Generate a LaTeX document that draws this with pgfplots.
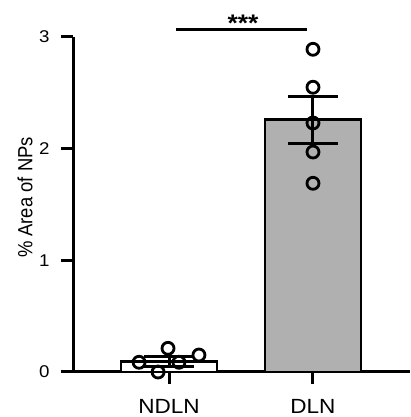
\documentclass[border=0pt]{standalone}
\usepackage{pgfplots}
\pgfplotsset{compat=1.18}
\usepackage{fontspec}
\setmainfont{Liberation Sans}
% the reference is set a little wider than Arial
\newfontfamily\wide{Liberation Sans}[FakeStretch=1.1]
\newfontfamily\narrow{Liberation Sans}[FakeStretch=0.9]
\definecolor{barGray}{HTML}{B0B0B0}

\begin{document}
\begin{tikzpicture}[x=1pt,y=1pt]
\useasboundingbox (0,0) rectangle (410,417);
\begin{axis}[
    at={(73pt,45pt)}, anchor=south west,
    scale only axis, width=337pt, height=335pt,
    xmin=-0.667, xmax=1.674, ymin=0, ymax=3,
    clip=false,
    axis x line*=bottom, axis y line*=left,
    axis line style={line width=3pt, black},
    xtick={0,1}, xticklabels={NDLN,DLN},
    ytick={0,1,2,3}, yticklabels={0,1,2,3},
    tick align=outside, major tick length=12pt,
    major tick style={line width=3pt, black},
    yticklabel style={font=\wide\fontsize{17}{19}\selectfont, anchor=east, xshift=-8pt},
    xticklabel style={font=\wide\fontsize{20.5}{24}\selectfont, yshift=-12pt},
    ylabel={\% Area of NPs},
    ylabel style={font=\narrow\fontsize{20.5}{24}\selectfont, at={(axis description cs:-0.142,0.521)}, anchor=center},
]
% bars
\addplot[ybar, bar width=96pt, fill=white, draw=black, line width=2.8pt]
    coordinates {(0,0.095)};
\addplot[ybar, bar width=96pt, fill=barGray, draw=black, line width=2.8pt]
    coordinates {(1,2.26)};
% mean +- SEM
\addplot[draw=none, mark=none,
    error bars/.cd, y dir=both, y explicit,
    error mark=|, error mark options={line width=3pt, mark size=25pt, black},
    error bar style={line width=3pt, black}]
    coordinates {(0,0.095) +- (0,0.045) (1,2.26) +- (0,0.21)};
% individual values
\addplot[only marks, mark=o, mark size=6pt, line width=2.8pt, black]
    coordinates {
    (-0.208,0.087) (-0.007,0.212) (-0.076,0.0) (0.069,0.087) (0.208,0.152)
    (1,2.89) (1,2.55) (1,2.23) (1,1.97) (1,1.69)
    };
% significance
\addplot[line width=2.6pt, black, mark=none] coordinates {(0.049,3.068) (0.958,3.068)};
\node[font=\wide\bfseries\fontsize{24}{26}\selectfont] at (axis cs:0.514,3.12) {***};
\end{axis}
\end{tikzpicture}
\end{document}
